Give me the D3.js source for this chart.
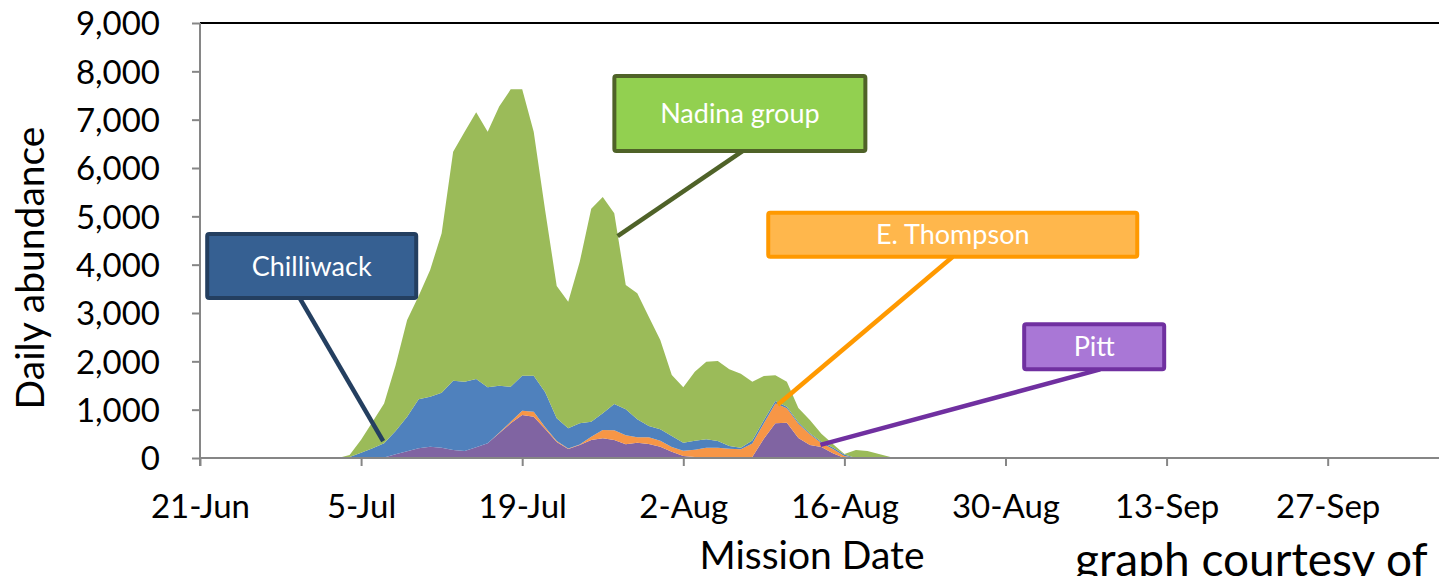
<!DOCTYPE html>
<html>
<head>
<meta charset="utf-8">
<script src="https://cdn.jsdelivr.net/npm/d3@7"></script>
<style>
  body { margin: 0; background: #fff; }
  svg { display: block; font-family: Lato, "Open Sans", sans-serif; }
</style>
</head>
<body>
<svg id="chart" width="1439" height="576"></svg>
<script>

// first day of the daily series (2-Jul), values per day
var firstDay = "2-Jul";

var pitt = [0, 0, 0, 0, 0, 10, 77, 138, 200, 234,
            213, 166, 145, 221, 304, 511, 718, 890, 855, 600,
            331, 186, 269, 372, 408, 372, 283, 317, 290, 234,
            130, 41, 20, 20, 20, 20, 20, 20, 400, 720,
            730, 414, 270, 228, 100, 0, 0, 0, 0, 0, 0];

var thompson = [0, 0, 0, 0, 0, 0, 0, 0, 0, 0,
                0, 0, 0, 0, 0, 10, 30, 90, 100, 35,
                20, 10, 10, 70, 170, 200, 190, 110, 140, 125,
                100, 110, 150, 190, 190, 170, 160, 280, 320, 410,
                300, 296, 220, 80, 86, 40, 0, 0, 0, 0, 0];

var chilliwack = [0, 0, 20, 110, 200, 294, 482, 717, 1015, 1034,
                  1138, 1434, 1434, 1414, 1159, 976, 725, 724, 745, 725,
                  469, 418, 439, 309, 347, 545, 535, 374, 232, 235,
                  225, 166, 188, 178, 142, 59, 34, 60, 60, 50,
                  30, 30, 20, 30, 30, 30, 0, 0, 0, 0, 0];

var nadina = [0, 0, 40, 270, 550, 826, 1359, 2000, 2137, 2622,
              3299, 4738, 5173, 5518, 5289, 5774, 6154, 5926, 5050, 3757,
              2740, 2620, 3340, 4405, 4475, 3946, 2572, 2607, 2262, 1848,
              1262, 1146, 1428, 1605, 1656, 1587, 1531, 1219, 917, 531,
              519, 295, 276, 162, 74, 13, 166, 145, 83, 20, 0];

var seriesKeys = ["Pitt", "E. Thompson", "Chilliwack", "Nadina group"];
var seriesColors = ["#8064A2", "#F79646", "#4F81BD", "#9BBB59"];

var xTickLabels = ["21-Jun", "5-Jul", "19-Jul", "2-Aug", "16-Aug", "30-Aug", "13-Sep", "27-Sep"];
var yTicks = [0, 1000, 2000, 3000, 4000, 5000, 6000, 7000, 8000, 9000];

// callouts: tip = day/value the pointer touches, box = day/value of the box centre (days from 21-Jun)
var callouts = [
  {label: "Nadina group", tipDay: 36.3, tipVal: 4590, boxDay: 46.9, boxVal: 7130, w: 251, h: 75, stem: 3,
   fill: "#92D050", stroke: "#4F6228"},
  {label: "Chilliwack", tipDay: 15.9, tipVal: 350, boxDay: 9.7, boxVal: 3970, w: 209, h: 64, stem: -12,
   fill: "#366092", stroke: "#243F60"},
  {label: "E. Thompson", tipDay: 50.2, tipVal: 1100, boxDay: 65.4, boxVal: 4620, w: 369, h: 44, stem: 0,
   fill: "#FFB74C", stroke: "#FF9900"},
  {label: "Pitt", tipDay: 53.9, tipVal: 270, boxDay: 77.7, boxVal: 2300, w: 140, h: 45, stem: 6,
   fill: "#A977D6", stroke: "#7030A0"}
];

var parseDay = d3.timeParse("%d-%b-%Y");
function toDate(s) { return parseDay(s + "-2010"); }

var start = toDate(xTickLabels[0]);
var first = toDate(firstDay);

var rows = pitt.map(function(v, i) {
  return {
    date: d3.timeDay.offset(first, i),
    "Pitt": v,
    "E. Thompson": thompson[i],
    "Chilliwack": chilliwack[i],
    "Nadina group": nadina[i]
  };
});

var svg = d3.select("#chart");
var plotLeft = 200, plotTop = 23, plotBottom = 458;

var x = d3.scaleTime()
  .domain([start, d3.timeDay.offset(start, 112)])
  .range([plotLeft, plotLeft + 112 * 11.507]);

var y = d3.scaleLinear()
  .domain([0, 9000])
  .range([plotBottom, plotTop]);

function dayX(d) { return x(d3.timeHour.offset(start, Math.round(d * 24))); }

// stacked areas
var stack = d3.stack().keys(seriesKeys);
var layers = stack(rows);

var area = d3.area()
  .x(function(d) { return x(d.data.date); })
  .y0(function(d) { return y(d[0]); })
  .y1(function(d) { return y(d[1]); });

svg.append("g")
  .selectAll("path")
  .data(layers)
  .enter()
  .append("path")
  .attr("d", area)
  .attr("fill", function(d, i) { return seriesColors[i]; });

// top border of the plot area
svg.append("line")
  .attr("x1", plotLeft).attr("x2", 1439)
  .attr("y1", plotTop).attr("y2", plotTop)
  .attr("stroke", "#000")
  .attr("stroke-width", 2);

// Y axis
var yAxis = svg.append("g")
  .attr("transform", "translate(" + plotLeft + ",0)")
  .call(d3.axisLeft(y).tickValues(yTicks).tickSize(8).tickPadding(32)
    .tickFormat(d3.format(",")));

// X axis
var xAxis = svg.append("g")
  .attr("transform", "translate(0," + plotBottom + ")")
  .call(d3.axisBottom(x)
    .tickValues(xTickLabels.map(toDate))
    .tickSize(8).tickPadding(29)
    .tickFormat(function(d, i) { return xTickLabels[i]; }));

[yAxis, xAxis].forEach(function(g) {
  g.select(".domain").attr("stroke", "#868686").attr("stroke-width", 2);
  g.selectAll(".tick line").attr("stroke", "#868686").attr("stroke-width", 2);
  g.selectAll(".tick text")
    .attr("fill", "#000")
    .attr("font-family", "Lato, sans-serif")
    .attr("font-size", "33px");
});
xAxis.select(".domain").attr("d", "M" + plotLeft + ",0H1439");
yAxis.select(".domain").attr("d", "M0," + plotTop + "V" + (plotBottom + 8));
yAxis.selectAll(".tick text").attr("dy", "0.36em");
xAxis.selectAll(".tick text").attr("dy", "0.71em");

// axis titles
svg.append("text")
  .attr("transform", "translate(44,268) rotate(-90)")
  .attr("text-anchor", "middle")
  .attr("font-size", "39px")
  .attr("fill", "#000")
  .text("Daily abundance");

svg.append("text")
  .attr("x", 812)
  .attr("y", 569)
  .attr("text-anchor", "middle")
  .attr("font-size", "39px")
  .attr("fill", "#000")
  .text("Mission Date");

svg.append("text")
  .attr("x", 1075)
  .attr("y", 576)
  .attr("font-size", "46px")
  .attr("fill", "#000")
  .text("graph courtesy of");

// callouts
var notes = svg.append("g")
  .selectAll("g")
  .data(callouts)
  .enter()
  .append("g");

notes.append("line")
  .attr("x1", function(d) { return dayX(d.tipDay); })
  .attr("y1", function(d) { return y(d.tipVal); })
  .attr("x2", function(d) { return dayX(d.boxDay) + d.stem; })
  .attr("y2", function(d) { return y(d.boxVal) + d.h / 2; })
  .attr("stroke", function(d) { return d.stroke; })
  .attr("stroke-width", 4.5);

notes.append("rect")
  .attr("x", function(d) { return dayX(d.boxDay) - d.w / 2; })
  .attr("y", function(d) { return y(d.boxVal) - d.h / 2; })
  .attr("width", function(d) { return d.w; })
  .attr("height", function(d) { return d.h; })
  .attr("rx", 2)
  .attr("fill", function(d) { return d.fill; })
  .attr("stroke", function(d) { return d.stroke; })
  .attr("stroke-width", 4);

notes.append("text")
  .attr("x", function(d) { return dayX(d.boxDay); })
  .attr("y", function(d) { return y(d.boxVal); })
  .attr("dy", "0.35em")
  .attr("text-anchor", "middle")
  .attr("font-size", "27px")
  .attr("fill", "#fff")
  .text(function(d) { return d.label; });

</script>
</body>
</html>
